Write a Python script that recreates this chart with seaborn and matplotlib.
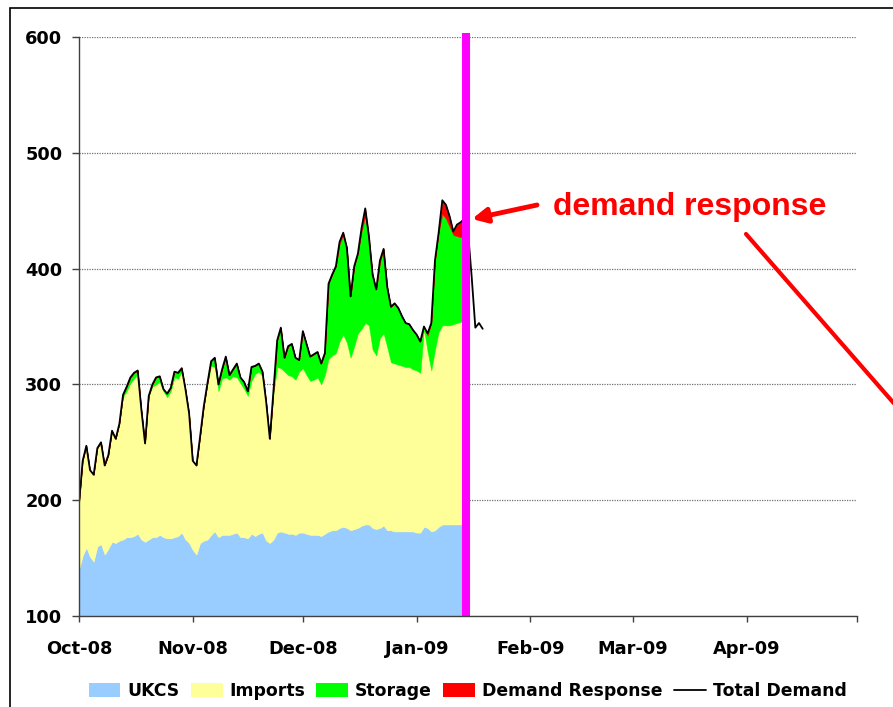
import numpy as np
import pandas as pd
import matplotlib
matplotlib.use("Agg")
import matplotlib.pyplot as plt
import seaborn as sns
from matplotlib.patches import Patch, Rectangle
from matplotlib.lines import Line2D

# ---------------- data (mcm/d, daily from 1 Oct 2008) ----------------
start_date = "2008-10-01"
ukcs = [140, 152, 159, 151, 147, 160, 162, 153, 158, 164,
        163, 165, 166, 168, 168, 169, 171, 166, 164, 166,
        168, 168, 170, 168, 167, 167, 168, 169, 172, 166,
        163, 157, 153, 163, 165, 166, 170, 173, 168, 170,
        170, 170, 171, 172, 168, 168, 167, 171, 169, 171,
        172, 165, 163, 166, 172, 173, 172, 171, 171, 170,
        172, 172, 171, 170, 170, 170, 169, 171, 173, 174,
        174, 176, 177, 176, 174, 175, 176, 178, 179, 179,
        176, 175, 176, 178, 174, 174, 173, 173, 173, 173,
        173, 173, 172, 172, 177, 176, 173, 174, 177, 179,
        179, 179, 179, 179, 179, 179]
imports = [57, 82, 88, 75, 75, 85, 88, 77, 81, 96,
           90, 101, 123, 126, 133, 136, 138, 112, 85, 124,
           130, 132, 132, 126, 122, 127, 138, 136, 139, 130,
           112, 77, 77, 92, 116, 134, 146, 142, 126, 135,
           136, 134, 136, 134, 133, 128, 123, 132, 140, 140,
           135, 120, 90, 126, 143, 141, 139, 137, 136, 134,
           139, 142, 137, 133, 134, 136, 131, 137, 149, 151,
           153, 161, 166, 160, 149, 158, 168, 170, 174, 172,
           154, 150, 164, 166, 158, 145, 145, 144, 143, 142,
           142, 140, 140, 138, 171, 152, 139, 156, 168, 172,
           172, 172, 173, 174, 175, 176]
storage = [0, 0, 0, 0, 0, 0, 0, 0, 0, 0,
           0, 0, 2, 4, 5, 5, 3, 0, 0, 0,
           2, 6, 5, 2, 3, 3, 5, 5, 3, 0,
           0, 0, 0, 0, 0, 1, 4, 8, 6, 8,
           18, 4, 6, 12, 5, 6, 4, 12, 7, 7,
           4, 0, 0, 3, 23, 35, 12, 25, 28, 19,
           10, 32, 27, 21, 22, 22, 18, 19, 65, 70,
           75, 84, 86, 82, 53, 69, 69, 84, 92, 73,
           65, 57, 65, 73, 52, 48, 52, 49, 43, 38,
           37, 34, 31, 27, 2, 14, 41, 77, 86, 96,
           92, 85, 77, 75, 73, 74]
demand_response = [0, 0, 0, 0, 0, 0, 0, 0, 0, 0,
                   0, 0, 0, 0, 0, 0, 0, 0, 0, 0,
                   0, 0, 0, 0, 0, 0, 0, 0, 0, 0,
                   0, 0, 0, 0, 0, 0, 0, 0, 0, 0,
                   0, 0, 0, 0, 0, 0, 0, 0, 0, 0,
                   0, 0, 0, 0, 0, 0, 0, 0, 0, 0,
                   0, 0, 0, 0, 0, 0, 0, 0, 0, 0,
                   0, 2, 2, 0, 0, 0, 0, 3, 7, 4,
                   0, 0, 2, 0, 0, 0, 0, 0, 0, 0,
                   0, 0, 0, 0, 0, 2, 0, 0, 0, 12,
                   12, 9, 3, 10, 13, 14]
total_demand = [197, 234, 247, 226, 222, 245, 250, 230, 239, 260,
                253, 266, 291, 298, 306, 310, 312, 278, 249, 290,
                300, 306, 307, 296, 292, 297, 311, 310, 314, 296,
                275, 234, 230, 255, 281, 301, 320, 323, 300, 313,
                324, 308, 313, 318, 306, 302, 294, 315, 316, 318,
                311, 285, 253, 295, 338, 349, 323, 333, 335, 323,
                321, 346, 335, 324, 326, 328, 318, 327, 387, 395,
                402, 423, 431, 418, 376, 402, 413, 435, 452, 428,
                395, 382, 407, 417, 384, 367, 370, 366, 359, 353,
                352, 347, 343, 337, 350, 344, 353, 407, 431, 459,
                455, 445, 432, 438, 440, 443, 432, 393, 349, 353, 348]
series_names = ["UKCS", "Imports", "Storage", "Demand Response", "Total Demand"]
month_labels = ["Oct-08", "Nov-08", "Dec-08", "Jan-09", "Feb-09", "Mar-09", "Apr-09", ""]
y_ticks = [100, 200, 300, 400, 500, 600]
marker_date = "2009-01-14 12:00"
annotation_text = "demand response"

colors = ["#99CCFF", "#FFFF99", "#00FF00", "#FF0000"]

# ---------------- style ----------------
sns.set_style("white")
plt.rcParams["font.family"] = ["DejaVu Sans"]
plt.rcParams["font.weight"] = "bold"
plt.rcParams["text.color"] = "black"
plt.rcParams["xtick.color"] = "black"
plt.rcParams["ytick.color"] = "black"
plt.rcParams["axes.labelcolor"] = "black"

W, H = 893, 707
fig = plt.figure(figsize=(W / 100, H / 100), dpi=100)
L, R, T, B = 79, 857, 37, 616
ax = fig.add_axes([L / W, 1 - B / H, (R - L) / W, (B - T) / H])

stack_dates = pd.date_range(start_date, periods=len(ukcs), freq="D")
total_dates = pd.date_range(start_date, periods=len(total_demand), freq="D")

ax.stackplot(stack_dates, ukcs, imports, storage, demand_response,
             colors=colors, linewidth=0.3, edgecolor="face", zorder=2)
sns.lineplot(x=total_dates, y=total_demand, ax=ax, color="black",
             linewidth=1.3, zorder=4, legend=False)

md = pd.Timestamp(marker_date)
ax.plot([md, md], [100, 603.5], color="#FF00FF", linewidth=5.8,
        solid_capstyle="butt", clip_on=False, zorder=5)

month_ticks = pd.date_range("2008-10-01", "2009-05-01", freq="MS")
ax.set_xlim(month_ticks[0], month_ticks[-1])
ax.set_xticks(month_ticks)
ax.set_xticklabels(month_labels)
ax.set_ylim(y_ticks[0], y_ticks[-1])
ax.set_yticks(y_ticks)

ax.yaxis.grid(True, linestyle=(0, (1, 1)), color="#707070", linewidth=0.9, zorder=1)
ax.xaxis.grid(False)
ax.set_axisbelow(True)
for s in ["top", "right"]:
    ax.spines[s].set_visible(False)
for s in ["left", "bottom"]:
    ax.spines[s].set_color("#404040")
    ax.spines[s].set_linewidth(1.0)
    ax.spines[s].set_zorder(6)

ax.tick_params(axis="x", direction="out", length=4, width=1, color="#404040",
               labelcolor="black", labelsize=12.8, pad=13, bottom=True)
ax.tick_params(axis="y", direction="out", length=5, width=1, color="#404040",
               labelcolor="black", labelsize=12.8, pad=7, left=True)
for lab in ax.get_xticklabels() + ax.get_yticklabels():
    lab.set_fontweight("bold")
ax.set_xlabel("")
ax.set_ylabel("")

# legend
handles = [Patch(facecolor=c, edgecolor="none") for c in colors]
handles.append(Line2D([0], [0], color="black", linewidth=1.3))
leg = fig.legend(handles, series_names, loc="center",
                 bbox_to_anchor=(467.5 / W, 1 - 691 / H), ncol=5, frameon=False,
                 prop={"size": 12.4, "weight": "bold"}, handlelength=1.85,
                 handleheight=0.85, handletextpad=0.4, columnspacing=0.65)
for t in leg.get_texts():
    t.set_color("black")

# annotation
fig.text(553 / W, 1 - 207 / H, annotation_text, color="#FF0000", fontsize=23,
         family=["Liberation Sans", "DejaVu Sans"], weight="bold",
         ha="left", va="center")
ax.annotate("", xy=(472, H - 219), xycoords="figure pixels",
            xytext=(537, H - 205), textcoords="figure pixels",
            arrowprops=dict(arrowstyle="-|>", color="#FF0000", lw=3.5,
                            mutation_scale=22, shrinkA=0, shrinkB=0))
fig.add_artist(Line2D([746 / W, 905 / W], [1 - 234 / H, 1 - 416 / H],
                      color="#FF0000", linewidth=3, transform=fig.transFigure))

# outer frame
fig.add_artist(Rectangle((10 / W, -0.1), 1.5, 1 - 8 / H + 0.1, fill=False,
                         edgecolor="black", linewidth=1.2,
                         transform=fig.transFigure))

fig.savefig("out.png", dpi=100)
